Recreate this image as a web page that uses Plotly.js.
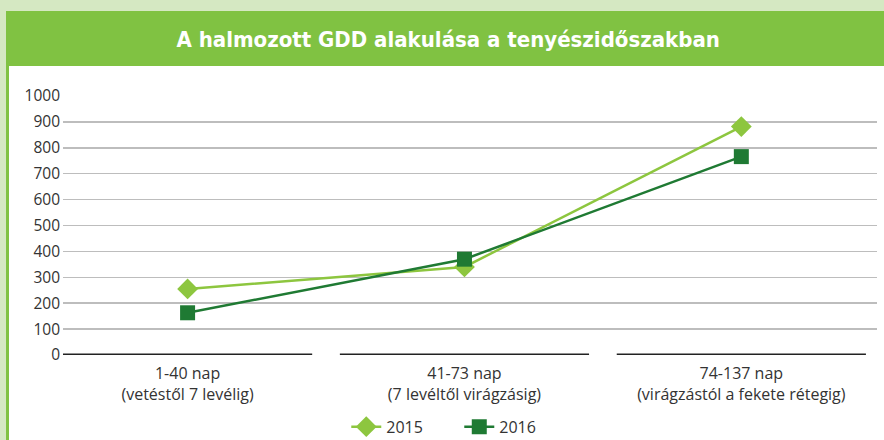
<!DOCTYPE html>
<html>
<head>
<meta charset="utf-8">
<script src="https://cdn.plot.ly/plotly-3.0.1.min.js"></script>
<style>
  html, body { margin: 0; padding: 0; width: 884px; height: 440px; overflow: hidden; background: #d5e8c2; }
  #bar { position: absolute; left: 6px; top: 11px; width: 878px; height: 55px; background: #80c242; }
  #panel { position: absolute; left: 6px; top: 66px; width: 875px; height: 374px; background: #ffffff; border-left: 3px solid #80c242; }
  #chart { position: absolute; left: 0; top: 0; width: 884px; height: 440px; }
</style>
</head>
<body>
<div id="bar"></div>
<div id="panel"></div>
<div id="chart"></div>
<script>
const chartTitle = "A halmozott GDD alakulása a tenyészidőszakban";
const categories = [
  "1-40 nap<br>(vetéstől 7 levélig)",
  "41-73 nap<br>(7 levéltől virágzásig)",
  "74-137 nap<br>(virágzástól a fekete rétegig)"
];
const seriesNames = ["2015", "2016"];
const values2015 = [255, 340, 882];
const values2016 = [163, 370, 766];
const yTicks = [0, 100, 200, 300, 400, 500, 600, 700, 800, 900, 1000];

const catIdx = categories.map((c, i) => i);

const traces = [
  {
    x: catIdx, y: values2015, name: seriesNames[0], type: "scatter", mode: "lines+markers",
    line: { color: "#8dc63f", width: 2.5 },
    marker: { symbol: "diamond", size: 16, color: "#8dc63f" }
  },
  {
    x: catIdx, y: values2016, name: seriesNames[1], type: "scatter", mode: "lines+markers",
    line: { color: "#1f7a33", width: 2.5 },
    marker: { symbol: "square", size: 15, color: "#1f7a33" }
  }
];

// segmented category axis baseline
const segShapes = catIdx.map(i => ({
  type: "line", xref: "x", yref: "y", x0: i - 0.45, x1: i + 0.45, y0: 0, y1: 0,
  line: { color: "#222222", width: 3 }, layer: "above"
}));
const shapes = [
  { type: "line", xref: "paper", yref: "y", x0: 0, x1: 1, y0: 0, y1: 0,
    line: { color: "#ffffff", width: 3 }, layer: "below" }
].concat(segShapes);

const layout = {
  width: 884, height: 440,
  paper_bgcolor: "rgba(0,0,0,0)",
  plot_bgcolor: "rgba(0,0,0,0)",
  margin: { l: 63, r: 7, t: 96, b: 85, autoexpand: false },
  font: { family: "Open Sans, Noto Sans, sans-serif", color: "#333333" },
  title: {
    text: "<b>" + chartTitle + "</b>",
    font: { family: "DejaVu Sans Condensed, Liberation Sans Narrow, Roboto, sans-serif", size: 22, color: "#ffffff" },
    x: 0.507, xanchor: "center", y: 0.91, yanchor: "middle", yref: "container"
  },
  showlegend: true,
  legend: {
    orientation: "h", x: 0.348, xanchor: "left", yref: "container", y: 0.03, yanchor: "middle",
    font: { size: 16, color: "#333333" }, itemwidth: 30, entrywidth: 68, entrywidthmode: "pixels",
    traceorder: "normal"
  },
  xaxis: {
    range: [-0.45, 2.49], automargin: false,
    tickmode: "array", tickvals: catIdx, ticktext: categories,
    showgrid: false, zeroline: false, showline: false, ticks: "",
    tickfont: { size: 16, color: "#333333" }, ticklabelstandoff: 7, fixedrange: true
  },
  yaxis: {
    range: [0, 1000], tickmode: "array", tickvals: yTicks, automargin: false,
    showgrid: true, gridcolor: "#bdbdbd", gridwidth: 1.5,
    zeroline: false, showline: false, ticks: "",
    tickfont: { size: 15.5, color: "#333333" }, ticklabelstandoff: 2, fixedrange: true
  },
  shapes: shapes
};

Plotly.newPlot("chart", traces, layout, { displayModeBar: false, staticPlot: true });
</script>
</body>
</html>
